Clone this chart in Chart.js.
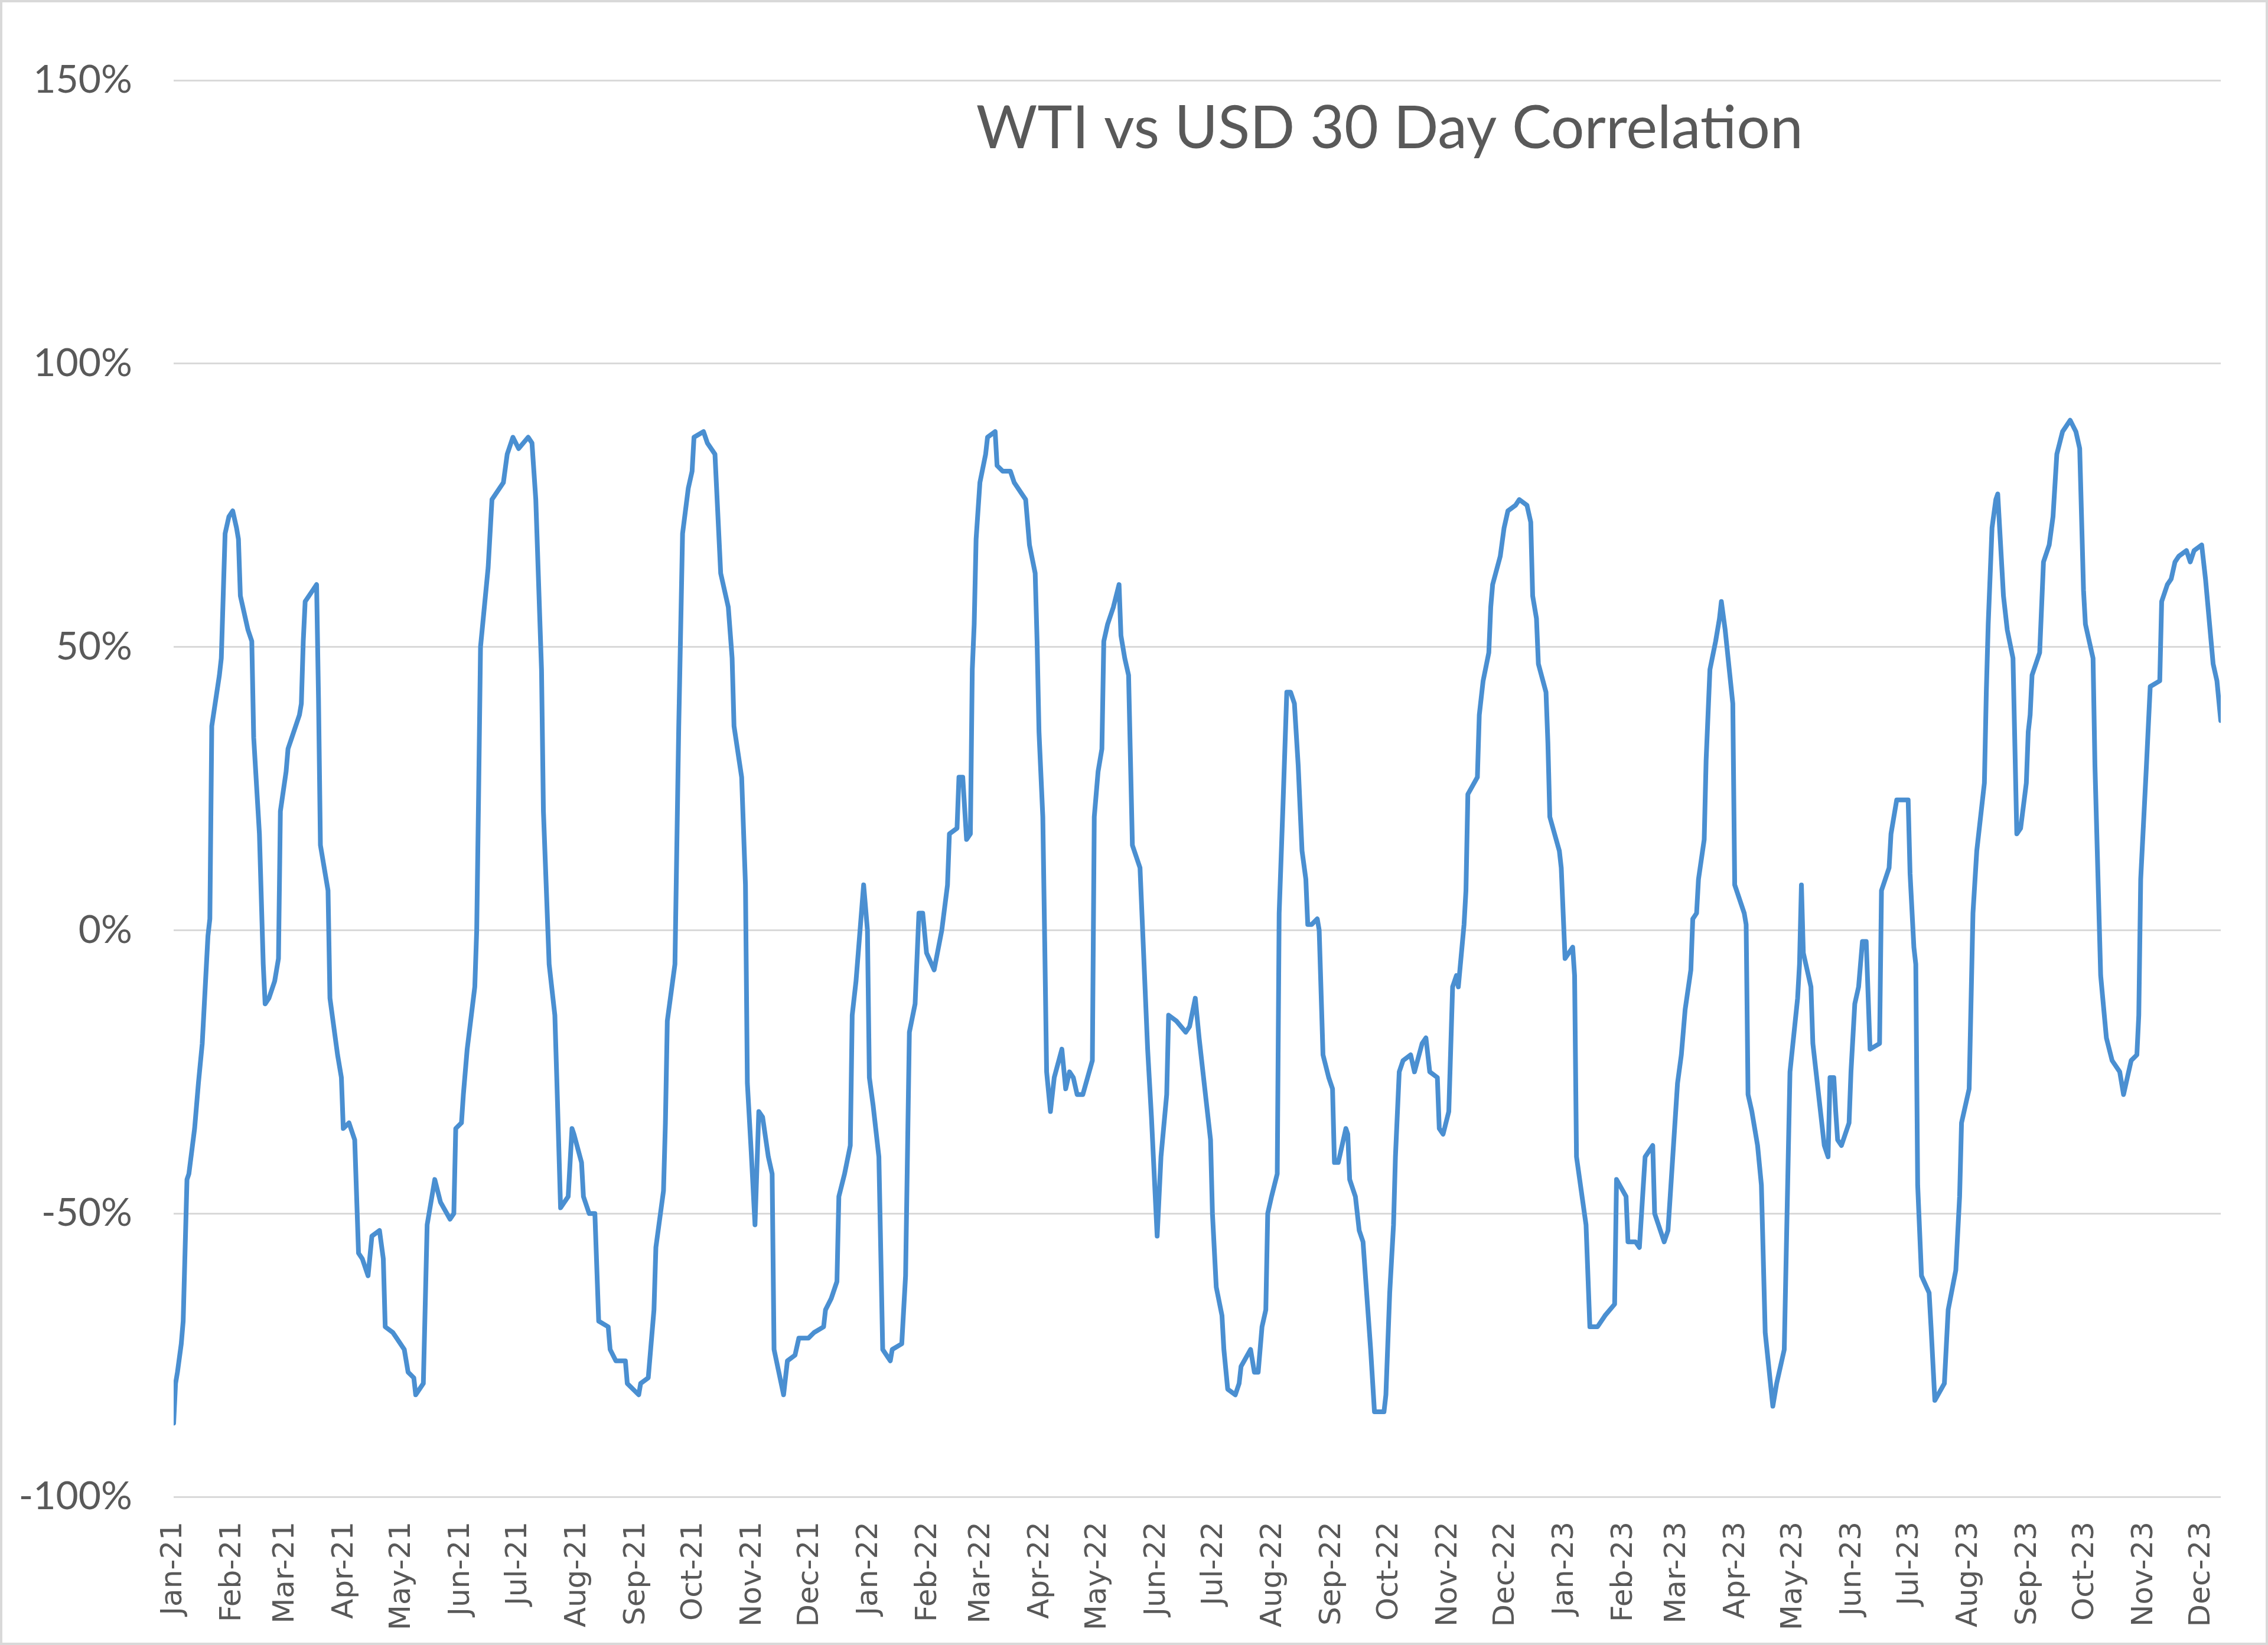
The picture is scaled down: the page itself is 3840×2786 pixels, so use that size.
<!DOCTYPE html>
<html>
<head>
<meta charset="utf-8">
<title>WTI vs USD 30 Day Correlation</title>
<script src="https://cdn.jsdelivr.net/npm/chart.js@4.4.1/dist/chart.umd.min.js"></script>
<style>
    html, body { margin: 0; padding: 0; background: #fff; }
    #wrap { width: 3840px; height: 2786px; box-sizing: border-box; border: 4px solid #d9d9d9; background: #fff; }
    canvas { display: block; }
</style>
</head>
<body>
<div id="wrap"><canvas id="corr-chart" width="3832" height="2778"></canvas></div>
<script>
'use strict';

const chartTitle = 'WTI vs USD 30 Day Correlation';

// x values are days counted from the first observation (4 Jan 2021)
const startYear = 2021;
const startDay = 4;

const xTickLabels = [
    'Jan-21', 'Feb-21', 'Mar-21', 'Apr-21', 'May-21', 'Jun-21', 'Jul-21', 'Aug-21', 'Sep-21', 'Oct-21', 'Nov-21', 'Dec-21',
    'Jan-22', 'Feb-22', 'Mar-22', 'Apr-22', 'May-22', 'Jun-22', 'Jul-22', 'Aug-22', 'Sep-22', 'Oct-22', 'Nov-22', 'Dec-22',
    'Jan-23', 'Feb-23', 'Mar-23', 'Apr-23', 'May-23', 'Jun-23', 'Jul-23', 'Aug-23', 'Sep-23', 'Oct-23', 'Nov-23', 'Dec-23'
];

const dayOffsets = [
    0, 1, 2, 4, 5, 7, 8, 11, 13, 15,
    18, 19, 20, 24, 25, 27, 29, 31, 33, 34,
    35, 39, 41, 42, 45, 47, 48, 50, 53, 55,
    56, 59, 60, 62, 66, 67, 68, 69, 73, 75,
    76, 77, 80, 81, 82, 86, 88, 89, 92, 95,
    97, 99, 102, 104, 108, 110, 111, 115, 117, 121,
    123, 126, 127, 131, 133, 137, 140, 145, 147, 148,
    151, 152, 154, 158, 159, 160, 161, 165, 167, 173,
    175, 178, 181, 186, 188, 190, 193, 194, 195, 197,
    200, 201, 203, 207, 209, 210, 214, 215, 218, 221,
    223, 228, 229, 232, 237, 238, 244, 245, 249, 252,
    253, 257, 258, 259, 263, 265, 267, 270, 272, 273,
    278, 280, 284, 286, 287, 291, 293, 294, 298, 300,
    301, 303, 305, 307, 309, 312, 314, 315, 320, 322,
    326, 328, 333, 336, 341, 342, 345, 348, 349, 352,
    355, 356, 358, 362, 364, 365, 367, 370, 372, 376,
    377, 382, 384, 386, 389, 391, 393, 395, 399, 403,
    406, 407, 411, 412, 414, 416, 418, 419, 420, 421,
    423, 426, 427, 431, 432, 435, 439, 441, 445, 447,
    449, 452, 453, 454, 456, 457, 458, 460, 462, 466,
    468, 470, 472, 474, 477, 482, 483, 485, 487, 488,
    490, 493, 496, 497, 499, 501, 503, 507, 511, 513,
    516, 518, 521, 522, 526, 531, 533, 536, 538, 542,
    544, 545, 547, 550, 551, 553, 557, 559, 560, 565,
    567, 569, 571, 573, 574, 576, 579, 580, 582, 584,
    586, 588, 590, 592, 594, 595, 597, 600, 601, 603,
    606, 608, 609, 611, 615, 616, 617, 620, 622, 624,
    628, 630, 635, 636, 638, 640, 641, 643, 645, 649,
    651, 655, 657, 659, 663, 664, 666, 669, 671, 673,
    674, 677, 678, 679, 684, 685, 687, 690, 691, 692,
    696, 698, 700, 704, 706, 710, 712, 713, 715, 716,
    720, 721, 722, 727, 728, 730, 734, 735, 736, 741,
    743, 747, 751, 756, 757, 762, 763, 767, 769, 772,
    776, 777, 782, 784, 789, 791, 793, 796, 797, 799,
    800, 803, 804, 806, 809, 811, 812, 814, 818, 819,
    824, 825, 826, 828, 831, 833, 835, 839, 841, 845,
    848, 852, 853, 854, 855, 859, 860, 866, 868, 869,
    871, 872, 873, 875, 879, 880, 882, 884, 886, 888,
    890, 895, 896, 898, 900, 901, 903, 904, 910, 911,
    913, 914, 915, 917, 921, 922, 924, 929, 931, 935,
    937, 938, 942, 944, 946, 950, 951, 952, 954, 956,
    957, 960, 962, 965, 967, 969, 972, 973, 974, 975,
    979, 981, 984, 986, 988, 991, 995, 998, 1000, 1002,
    1003, 1007, 1008, 1011, 1014, 1017, 1021, 1023, 1027, 1030,
    1031, 1032, 1035, 1037, 1042, 1043, 1046, 1048, 1050, 1052,
    1056, 1058, 1060, 1064, 1066, 1070, 1072, 1074
];

const correlation = [
    -0.87, -0.80, -0.78, -0.73, -0.69, -0.44, -0.43, -0.35, -0.27, -0.20,
    -0.01, 0.02, 0.36, 0.45, 0.48, 0.70, 0.73, 0.74, 0.71, 0.69,
    0.59, 0.53, 0.51, 0.34, 0.17, -0.06, -0.13, -0.12, -0.09, -0.05,
    0.21, 0.28, 0.32, 0.34, 0.38, 0.40, 0.51, 0.58, 0.60, 0.61,
    0.41, 0.15, 0.09, 0.07, -0.12, -0.22, -0.26, -0.35, -0.34, -0.37,
    -0.57, -0.58, -0.61, -0.54, -0.53, -0.58, -0.70, -0.71, -0.72, -0.74,
    -0.78, -0.79, -0.82, -0.80, -0.52, -0.44, -0.48, -0.51, -0.50, -0.35,
    -0.34, -0.29, -0.21, -0.10, 0.00, 0.24, 0.50, 0.64, 0.76, 0.79,
    0.84, 0.87, 0.85, 0.87, 0.86, 0.76, 0.46, 0.21, 0.12, -0.06,
    -0.15, -0.26, -0.49, -0.47, -0.35, -0.36, -0.41, -0.47, -0.50, -0.50,
    -0.69, -0.70, -0.74, -0.76, -0.76, -0.80, -0.82, -0.80, -0.79, -0.67,
    -0.56, -0.46, -0.34, -0.16, -0.06, 0.36, 0.70, 0.78, 0.81, 0.87,
    0.88, 0.86, 0.84, 0.70, 0.63, 0.57, 0.48, 0.36, 0.27, 0.08,
    -0.27, -0.39, -0.52, -0.32, -0.33, -0.40, -0.43, -0.74, -0.82, -0.76,
    -0.75, -0.72, -0.72, -0.71, -0.70, -0.67, -0.65, -0.62, -0.47, -0.43,
    -0.38, -0.15, -0.09, 0.08, 0.00, -0.26, -0.31, -0.40, -0.74, -0.76,
    -0.74, -0.73, -0.61, -0.18, -0.13, 0.03, 0.03, -0.04, -0.07, 0.00,
    0.08, 0.17, 0.18, 0.27, 0.27, 0.16, 0.17, 0.46, 0.54, 0.69,
    0.79, 0.84, 0.87, 0.88, 0.82, 0.81, 0.81, 0.79, 0.77, 0.76,
    0.68, 0.63, 0.51, 0.35, 0.20, -0.02, -0.25, -0.32, -0.26, -0.21,
    -0.28, -0.25, -0.26, -0.29, -0.29, -0.23, 0.20, 0.28, 0.32, 0.51,
    0.54, 0.57, 0.61, 0.52, 0.48, 0.45, 0.15, 0.11, -0.21, -0.33,
    -0.54, -0.40, -0.29, -0.15, -0.16, -0.18, -0.17, -0.12, -0.19, -0.31,
    -0.37, -0.50, -0.63, -0.68, -0.74, -0.81, -0.82, -0.80, -0.77, -0.74,
    -0.78, -0.78, -0.70, -0.67, -0.50, -0.47, -0.43, 0.03, 0.22, 0.42,
    0.42, 0.40, 0.29, 0.14, 0.09, 0.01, 0.01, 0.02, 0.00, -0.22,
    -0.26, -0.28, -0.41, -0.41, -0.35, -0.36, -0.44, -0.47, -0.53, -0.55,
    -0.74, -0.85, -0.85, -0.82, -0.64, -0.52, -0.40, -0.25, -0.23, -0.22,
    -0.25, -0.20, -0.19, -0.25, -0.26, -0.35, -0.36, -0.32, -0.10, -0.08,
    -0.10, 0.01, 0.07, 0.24, 0.27, 0.38, 0.44, 0.49, 0.57, 0.61,
    0.66, 0.71, 0.74, 0.75, 0.76, 0.75, 0.72, 0.59, 0.55, 0.47,
    0.42, 0.33, 0.20, 0.14, 0.11, -0.05, -0.03, -0.08, -0.40, -0.52,
    -0.70, -0.70, -0.68, -0.66, -0.44, -0.47, -0.55, -0.55, -0.56, -0.40,
    -0.38, -0.50, -0.55, -0.53, -0.27, -0.22, -0.14, -0.07, 0.02, 0.03,
    0.09, 0.16, 0.30, 0.46, 0.51, 0.55, 0.58, 0.53, 0.40, 0.08,
    0.03, 0.01, -0.29, -0.32, -0.38, -0.45, -0.71, -0.84, -0.80, -0.74,
    -0.25, -0.12, -0.06, 0.08, -0.04, -0.10, -0.20, -0.38, -0.40, -0.26,
    -0.26, -0.32, -0.37, -0.38, -0.34, -0.25, -0.13, -0.10, -0.02, -0.02,
    -0.21, -0.20, 0.07, 0.09, 0.11, 0.17, 0.21, 0.23, 0.23, 0.10,
    -0.03, -0.06, -0.45, -0.61, -0.64, -0.70, -0.83, -0.80, -0.67, -0.60,
    -0.47, -0.34, -0.28, 0.03, 0.14, 0.26, 0.42, 0.54, 0.71, 0.76,
    0.77, 0.59, 0.53, 0.48, 0.17, 0.18, 0.26, 0.35, 0.38, 0.45,
    0.49, 0.65, 0.68, 0.73, 0.84, 0.88, 0.90, 0.88, 0.85, 0.60,
    0.54, 0.48, 0.29, -0.08, -0.19, -0.23, -0.25, -0.29, -0.23, -0.22,
    -0.15, 0.09, 0.29, 0.43, 0.44, 0.58, 0.61, 0.62, 0.65, 0.66,
    0.67, 0.65, 0.67, 0.68, 0.62, 0.47, 0.44, 0.37
];

// one tick per month, on the same day of month as the first observation
const dayMs = 86400000;
const origin = Date.UTC(startYear, 0, startDay);
const tickDays = xTickLabels.map((label, i) => Math.round((Date.UTC(startYear, i, startDay) - origin) / dayMs));

const points = dayOffsets.map((d, i) => ({ x: d, y: correlation[i] }));

const titlePlugin = {
    id: 'floatingTitle',
    afterDraw(chart) {
        const { ctx, chartArea } = chart;
        ctx.save();
        ctx.font = '100px Lato';
        ctx.fillStyle = '#595959';
        ctx.textAlign = 'center';
        ctx.textBaseline = 'alphabetic';
        const x = chartArea.left + (chartArea.right - chartArea.left) * 0.594;
        const y = chartArea.top + (chartArea.bottom - chartArea.top) * 0.048;
        ctx.fillText(chartTitle, x, y);
        ctx.restore();
    }
};

new Chart(document.getElementById('corr-chart'), {
    type: 'line',
    data: {
        datasets: [{
            label: chartTitle,
            data: points,
            borderColor: '#4a8fd1',
            borderWidth: 8,
            borderJoinStyle: 'round',
            borderCapStyle: 'round',
            pointRadius: 0,
            tension: 0,
            fill: false
        }]
    },
    options: {
        responsive: false,
        animation: false,
        devicePixelRatio: 1,
        layout: { padding: { top: 132, right: 76, bottom: 0, left: 0 } },
        plugins: {
            legend: { display: false },
            tooltip: { enabled: false }
        },
        scales: {
            x: {
                type: 'linear',
                min: 0,
                max: dayOffsets[dayOffsets.length - 1],
                afterBuildTicks: (scale) => {
                    scale.ticks = tickDays.map(v => ({ value: v }));
                },
                afterFit: (scale) => { scale.height = 247; },
                grid: { display: false, drawTicks: false },
                border: { display: false },
                ticks: {
                    autoSkip: false,
                    minRotation: 90,
                    maxRotation: 90,
                    padding: 42,
                    color: '#595959',
                    font: { family: 'DejaVu Sans', size: 50 },
                    callback: (value, index) => xTickLabels[index]
                }
            },
            y: {
                min: -1,
                max: 1.5,
                afterFit: (scale) => { scale.width = 290; },
                grid: { color: '#d9d9d9', lineWidth: 3, drawTicks: false },
                border: { display: false },
                ticks: {
                    stepSize: 0.5,
                    padding: 70,
                    color: '#595959',
                    font: { family: 'Lato', size: 66 },
                    callback: (value) => Math.round(value * 100) + '%'
                }
            }
        }
    },
    plugins: [titlePlugin]
});
</script>
</body>
</html>
